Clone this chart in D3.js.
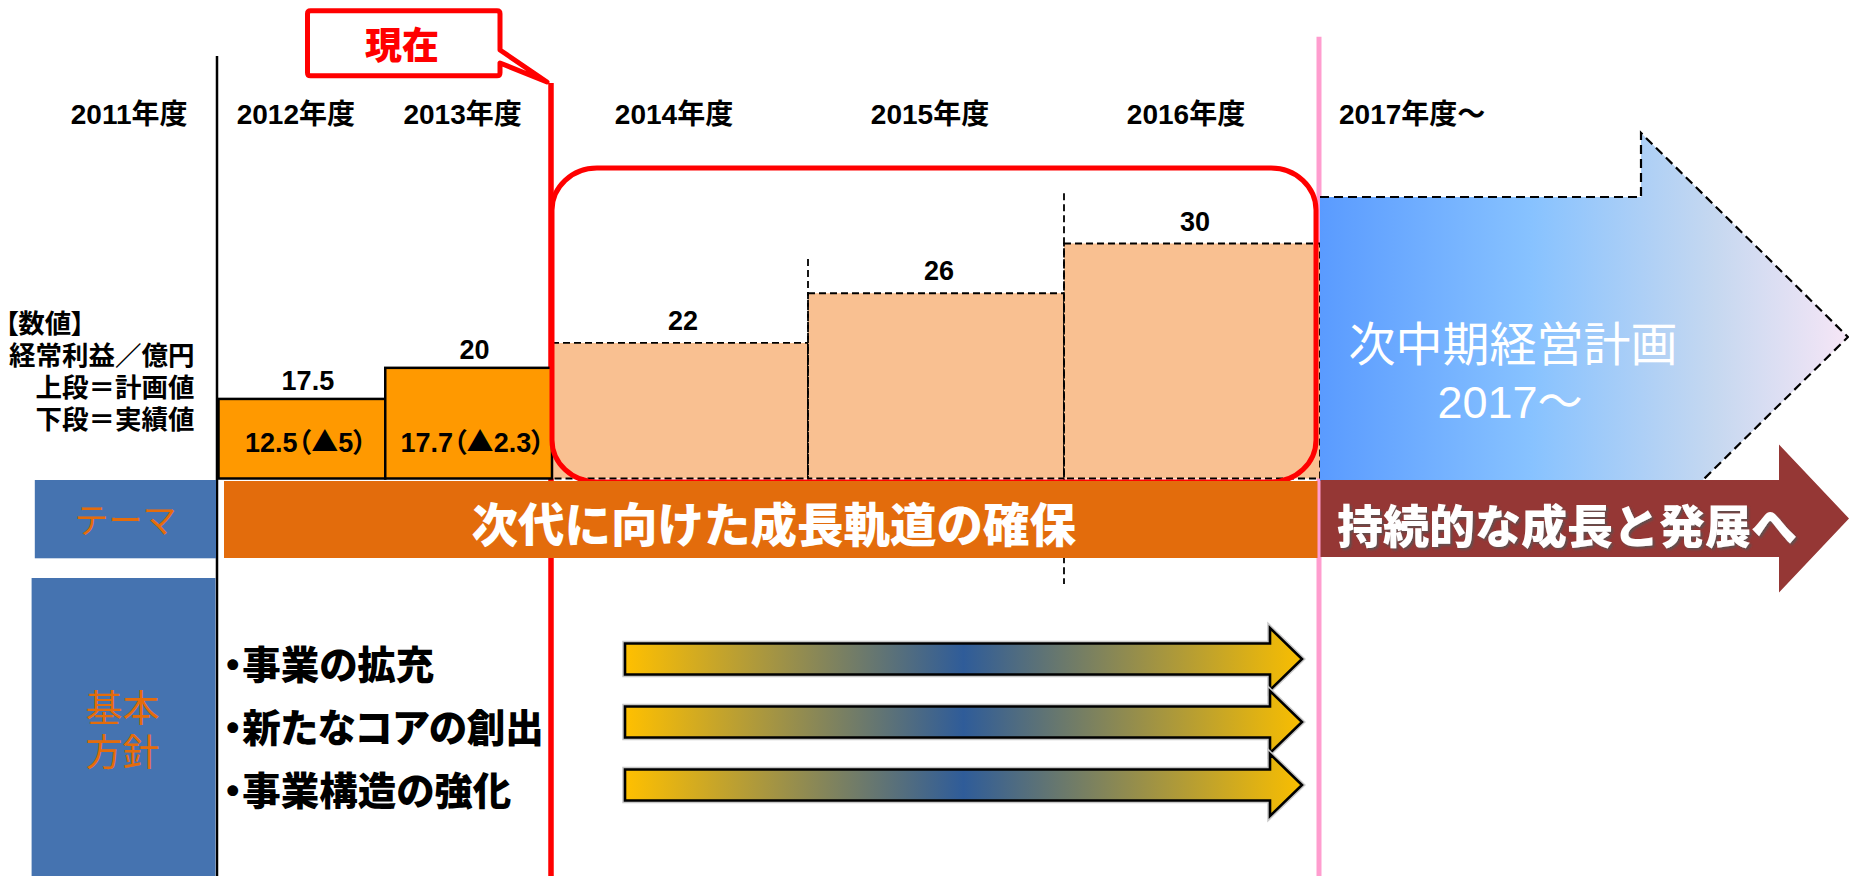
<!DOCTYPE html>
<html lang="ja">
<head>
<meta charset="utf-8">
<title>中期経営計画</title>
<script src="https://cdn.jsdelivr.net/npm/d3@7/dist/d3.min.js"></script>
<style>
  html, body { margin: 0; padding: 0; background: #ffffff; overflow: hidden; }
  svg { display: block; }
</style>
</head>
<body>
<div id="chart"></div>
<script>
// ---------------- data ----------------
const yearStarts = [2011, 2012, 2013, 2014, 2015, 2016];
const yearLabels = ["2011年度", "2012年度", "2013年度", "2014年度", "2015年度", "2016年度"];
const nextYearLabel = "2017年度～";

const resultYears = [2012, 2013];
const resultPlanValues = [17.5, 20];
const resultActualValues = [12.5, 17.7];
const resultShortfalls = [5, 2.3];

const targetYears = [2014, 2015, 2016];
const targetValues = [22, 26, 30];

const legendLines = ["【数値】", "経常利益／億円", "上段＝計画値", "下段＝実績値"];
const nowLabel = "現在";
const themeHeader = "テーマ";
const themeText = "次代に向けた成長軌道の確保";
const nextThemeText = "持続的な成長と発展へ";
const nextPlanLines = ["次中期経営計画", "2017～"];
const policyHeader = ["基本", "方針"];
const policyItems = ["・事業の拡充", "・新たなコアの創出", "・事業構造の強化"];

// ---------------- setup ----------------
const W = 1849, H = 876;
const LATIN = "'Liberation Sans', 'Noto Sans CJK JP', sans-serif";
const JP = "'Noto Sans CJK JP', 'Noto Sans CJK SC', sans-serif";

const svg = d3.select("#chart").append("svg")
  .attr("width", W).attr("height", H)
  .attr("viewBox", `0 0 ${W} ${H}`);

// period scale: actual period 2012-2014, plan period 2014-2017
const x = d3.scaleLinear().domain([2012, 2014, 2017]).range([218.5, 552, 1320]);
const y = d3.scaleLinear().domain([11.1, 30]).range([478.5, 243.5]);
const base = y(11.1);

const defs = svg.append("defs");
const g1 = defs.append("linearGradient").attr("id", "policyGrad");
[[0, "#ffc000"], [0.5, "#2f5c99"], [1, "#f9be00"]].forEach(([o, c]) =>
  g1.append("stop").attr("offset", o).attr("stop-color", c));
const g2 = defs.append("linearGradient").attr("id", "planGrad");
[[0, "#5a9bff"], [0.4, "#87c2ff"], [0.75, "#c6d8f0"], [1, "#f6e6f6"]].forEach(([o, c]) =>
  g2.append("stop").attr("offset", o).attr("stop-color", c));
const sh = defs.append("filter").attr("id", "shadow").attr("x", "-5%").attr("y", "-20%")
  .attr("width", "110%").attr("height", "150%");
sh.append("feDropShadow").attr("dx", 2).attr("dy", 2).attr("stdDeviation", 1.2)
  .attr("flood-color", "#555").attr("flood-opacity", 0.8);

function arrowPath(x0, x1, cy, bodyH, headH, headLen) {
  const xb = x1 - headLen;
  return `M${x0},${cy - bodyH / 2}H${xb}V${cy - headH / 2}L${x1},${cy}L${xb},${cy + headH / 2}V${cy + bodyH / 2}H${x0}Z`;
}

// ---------------- vertical guide lines (underneath) ----------------
svg.append("line").attr("x1", 1319).attr("x2", 1319).attr("y1", 36.7).attr("y2", H)
  .attr("stroke", "#ff9dcf").attr("stroke-width", 5);
svg.append("line").attr("x1", 217).attr("x2", 217).attr("y1", 56).attr("y2", H)
  .attr("stroke", "#000").attr("stroke-width", 2.5);
svg.append("line").attr("x1", 551).attr("x2", 551).attr("y1", 83).attr("y2", H)
  .attr("stroke", "#ff0000").attr("stroke-width", 5.5);

// ---------------- plan bars (2014-2016) ----------------
const dash = "7,4";
svg.append("g").selectAll("rect").data(targetYears).join("rect")
  .attr("x", d => x(d)).attr("width", d => x(d + 1) - x(d))
  .attr("y", (d, i) => y(targetValues[i]))
  .attr("height", (d, i) => base - y(targetValues[i]))
  .attr("fill", "#f9c091")
  .attr("stroke", "#000").attr("stroke-width", 1.8).attr("stroke-dasharray", dash);

// separator dashed lines between plan years
svg.append("line").attr("x1", x(2015)).attr("x2", x(2015))
  .attr("y1", y(targetValues[0]) - 84).attr("y2", base)
  .attr("stroke", "#000").attr("stroke-width", 1.8).attr("stroke-dasharray", dash);
svg.append("line").attr("x1", x(2016)).attr("x2", x(2016))
  .attr("y1", y(targetValues[1]) - 100).attr("y2", 584)
  .attr("stroke", "#000").attr("stroke-width", 1.8).attr("stroke-dasharray", dash);

svg.append("g").selectAll("text").data(targetYears).join("text")
  .attr("x", d => (x(d) + x(d + 1)) / 2 + 3)
  .attr("y", (d, i) => y(targetValues[i]) - 13)
  .attr("text-anchor", "middle")
  .attr("font-family", LATIN).attr("font-weight", "bold").attr("font-size", 27)
  .text((d, i) => targetValues[i]);

// ---------------- result bars (2012-2013) ----------------
svg.append("g").selectAll("rect").data(resultYears).join("rect")
  .attr("x", d => x(d)).attr("width", d => x(d + 1) - x(d))
  .attr("y", (d, i) => y(resultPlanValues[i]))
  .attr("height", (d, i) => base - y(resultPlanValues[i]))
  .attr("fill", "#ff9900").attr("stroke", "#000").attr("stroke-width", 2.5);

svg.append("g").selectAll("text").data(resultYears).join("text")
  .attr("x", d => (x(d) + x(d + 1)) / 2 + 6)
  .attr("y", (d, i) => y(resultPlanValues[i]) - 9)
  .attr("text-anchor", "middle")
  .attr("font-family", LATIN).attr("font-weight", "bold").attr("font-size", 27)
  .text((d, i) => resultPlanValues[i]);

const inner = svg.append("g").selectAll("text").data(resultYears).join("text")
  .attr("x", d => (x(d) + x(d + 1)) / 2 + 4)
  .attr("y", base - 27)
  .attr("text-anchor", "middle")
  .attr("font-family", LATIN).attr("font-weight", "bold").attr("font-size", 27)
  .style("font-feature-settings", "'palt'");
inner.append("tspan").text((d, i) => `${resultActualValues[i]}`);
inner.append("tspan").attr("font-family", JP).text("（▲");
inner.append("tspan").text((d, i) => `${resultShortfalls[i]}`);
inner.append("tspan").attr("font-family", JP).text("）");

// ---------------- red frame round plan period ----------------
svg.append("rect").attr("x", x(2014)).attr("y", 168)
  .attr("width", x(2017) - 4 - x(2014)).attr("height", 482 - 168)
  .attr("rx", 45).attr("ry", 42)
  .attr("fill", "none").attr("stroke", "#ff0000").attr("stroke-width", 5);

// ---------------- next plan arrow ----------------
const nx0 = 1320, nx1 = 1848, ncy = 337, nBody = 280, nHead = 408, nLen = 207;
svg.append("path")
  .attr("d", `M${nx0},${ncy - nBody / 2}H${nx1 - nLen}V${ncy - nHead / 2}L${nx1},${ncy}L${nx1 - nLen},${ncy + nHead / 2}V${ncy + nBody / 2 + 4}H${nx0}Z`)
  .attr("fill", "url(#planGrad)");
svg.append("path")
  .attr("d", `M${nx0},${ncy - nBody / 2}H${nx1 - nLen}V${ncy - nHead / 2}L${nx1},${ncy}L${nx1 - nLen},${ncy + nHead / 2}`)
  .attr("fill", "none")
  .attr("stroke", "#000").attr("stroke-width", 2.2).attr("stroke-dasharray", "9,5");

const nextPlan = svg.append("text").attr("text-anchor", "middle").attr("fill", "#fff");
nextPlan.append("tspan").attr("x", 1513).attr("y", 361)
  .attr("font-family", JP).attr("font-size", 47).text(nextPlanLines[0]);
nextPlan.append("tspan").attr("x", 1510).attr("y", 418)
  .attr("font-family", LATIN).attr("font-size", 45).text(nextPlanLines[1]);

// ---------------- theme row ----------------
svg.append("rect").attr("x", 34.8).attr("y", 480).attr("width", 217.5 - 34.8 - 1.5).attr("height", 78.3)
  .attr("fill", "#4573b0");
svg.append("text").attr("x", 125.6).attr("y", 533).attr("text-anchor", "middle")
  .attr("font-family", JP).attr("font-size", 34).attr("fill", "#e46c0a")
  .text(themeHeader);

svg.append("rect").attr("x", 224).attr("y", 481).attr("width", 1317.5 - 224).attr("height", 77)
  .attr("fill", "#e36c0c");
svg.append("text").attr("x", (224 + 1317.5) / 2 + 3).attr("y", 541.5).attr("text-anchor", "middle")
  .attr("font-family", JP).attr("font-weight", 900).attr("font-size", 46.5).attr("fill", "#fff")
  .text(themeText);

svg.append("path")
  .attr("d", arrowPath(1320.5, 1849, 518.5, 77, 148, 70))
  .attr("fill", "#953735");
svg.append("text").attr("x", 1337).attr("y", 542.5)
  .attr("font-family", JP).attr("font-weight", 900).attr("font-size", 46).attr("fill", "#fff")
  .attr("filter", "url(#shadow)")
  .text(nextThemeText);

// ---------------- policy row ----------------
svg.append("rect").attr("x", 31.6).attr("y", 578).attr("width", 215.5 - 31.6).attr("height", H - 578)
  .attr("fill", "#4573b0");
svg.append("g").selectAll("text").data(policyHeader).join("text")
  .attr("x", 122.5).attr("y", (d, i) => 722 + i * 43.5)
  .attr("text-anchor", "middle")
  .attr("font-family", LATIN).attr("font-size", 37).attr("fill", "#e46c0a")
  .text(d => d);

const policyY = d3.scalePoint().domain(policyItems).range([659, 785]);

svg.append("g").selectAll("text").data(policyItems).join("text")
  .attr("x", 223).attr("y", d => policyY(d) + 20)
  .attr("font-family", JP).attr("font-weight", 900).attr("font-size", 38.5).attr("fill", "#000")
  .style("font-feature-settings", "'palt'")
  .text(d => d);

const pArrows = svg.append("g").selectAll("g").data(policyItems).join("g");
pArrows.append("path")
  .attr("d", d => arrowPath(625, 1302, policyY(d), 31, 62, 32))
  .attr("fill", "none").attr("stroke", "#c8c8c8").attr("stroke-width", 5.5);
pArrows.append("path")
  .attr("d", d => arrowPath(625, 1302, policyY(d), 31, 62, 32))
  .attr("fill", "url(#policyGrad)").attr("stroke", "#000").attr("stroke-width", 2.6);

// ---------------- year header ----------------
svg.append("g").selectAll("text").data(yearStarts).join("text")
  .attr("x", d => (x(d) + x(d + 1)) / 2 - 6)
  .attr("y", 123.5)
  .attr("text-anchor", "middle")
  .attr("font-family", LATIN).attr("font-weight", "bold").attr("font-size", 28)
  .text((d, i) => yearLabels[i]);
svg.append("text").attr("x", x(2017) + 19).attr("y", 123.5)
  .attr("font-family", LATIN).attr("font-weight", "bold").attr("font-size", 28)
  .text(nextYearLabel);

// ---------------- legend text ----------------
svg.append("g").selectAll("text").data(legendLines).join("text")
  .attr("x", (d, i) => i === 0 ? 5 : 194.5)
  .attr("y", (d, i) => 333 + i * 32)
  .attr("text-anchor", (d, i) => i === 0 ? "start" : "end")
  .attr("font-family", LATIN).attr("font-weight", "bold").attr("font-size", 26.5)
  .style("font-feature-settings", (d, i) => i === 0 ? "'palt'" : "normal")
  .text(d => d);

// ---------------- "now" callout ----------------
svg.append("path")
  .attr("d", "M310.5,10.8H497Q500,10.8 500,13.8V50L547,82L500,63V72.8Q500,75.8 497,75.8H310.5Q307.5,75.8 307.5,72.8V13.8Q307.5,10.8 310.5,10.8Z")
  .attr("fill", "#fff").attr("stroke", "#ff0000").attr("stroke-width", 5).attr("stroke-linejoin", "round");
svg.append("text").attr("x", 402).attr("y", 59).attr("text-anchor", "middle")
  .attr("font-family", JP).attr("font-weight", 900).attr("font-size", 37).attr("fill", "#ff0000")
  .text(nowLabel);
</script>
</body>
</html>
